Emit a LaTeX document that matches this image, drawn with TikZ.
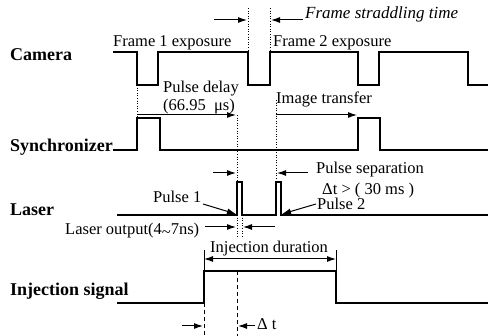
\documentclass[tikz,border=0pt]{standalone}
\usepackage{fontspec}
\setmainfont{Liberation Serif}
\usetikzlibrary{arrows.meta}
\begin{document}
\begin{tikzpicture}[x=1pt,y=-1pt,
  sig/.style={line width=1.4pt},
  dotv/.style={line width=0.8pt, dash pattern=on 1pt off 1.6pt},
  dashv/.style={line width=0.8pt, dash pattern=on 4pt off 3pt},
  thin tick/.style={line width=0.8pt},
  arr/.style={line width=1pt, -{Latex[length=9pt,width=6pt]}},
  darr/.style={line width=1pt, {Latex[length=9pt,width=6pt]}-{Latex[length=9pt,width=6pt]}},
  lbl/.style={font=\fontsize{16.5}{18}\selectfont, inner sep=0pt, anchor=base west},
  ital/.style={font=\fontsize{17}{19}\selectfont\itshape, inner sep=0pt, anchor=base west},
  ttl/.style={font=\fontsize{18}{20}\selectfont\bfseries, inner sep=0pt, anchor=base west}]
\useasboundingbox (0,0) rectangle (488,336);

% titles
\node[ttl] (tcam) at (10,61) {Camera};
\node[ttl] (tsyn) at (10,152) {Synchronizer};
\node[ttl] (tlas) at (10,216) {Laser};
\node[ttl] (tinj) at (10,296) {Injection signal};

% signals
\draw[sig] (113,52) -- (137,52) -- (137,85) -- (158,85) -- (158,52) -- (248,52) -- (248,85)
  -- (270,85) -- (270,52) -- (358,52) -- (358,85) -- (379,85) -- (379,52) -- (468,52) -- (468,85) -- (488,85);
\draw[sig] (113,150) -- (137,150) -- (137,118) -- (160,118) -- (160,150) -- (358,150) -- (358,118)
  -- (380,118) -- (380,150) -- (488,150);
\draw[sig] (117,215) -- (237,215) -- (237,182) -- (242,182) -- (242,215) -- (276,215) -- (276,182)
  -- (281,182) -- (281,215) -- (488,215);
\draw[sig] (117,303) -- (204,303) -- (204,271) -- (336,271) -- (336,303) -- (488,303);

% dotted / dashed guides
\draw[dotv] (137,85) -- (137,118);
\draw[dotv] (248,8) -- (248,52);
\draw[dotv] (270,8) -- (270,52);
\draw[dotv] (237,115) -- (237,182);
\draw[dotv] (237,215) -- (237,238);
\draw[dotv] (242,215) -- (242,238);
\draw[dotv] (276,100) -- (276,182);
\draw[thin tick] (204,250) -- (204,271);
\draw[thin tick] (336,250) -- (336,271);
\draw[dashv] (204,303) -- (204,336);
\draw[dashv] (237,271) -- (237,336);

% arrow end points
\coordinate (fsA) at (214,20); \coordinate (fsB) at (247,20);
\coordinate (fsC) at (303,20); \coordinate (fsD) at (271,20);
\coordinate (pdA) at (137,115); \coordinate (pdB) at (236,115);
\coordinate (itA) at (276,115); \coordinate (itB) at (357,115);
\coordinate (psA) at (213,173); \coordinate (psB) at (236,173);
\coordinate (psC) at (308,173); \coordinate (psD) at (277,173);
\coordinate (p1A) at (203,204); \coordinate (p1B) at (236,214);
\coordinate (p2A) at (316,204); \coordinate (p2B) at (282,214);
\coordinate (loA) at (205,227); \coordinate (loB) at (236,227);
\coordinate (loC) at (275,227); \coordinate (loD) at (243,227);
\coordinate (idA) at (204,259); \coordinate (idB) at (336,259);
\coordinate (dtA) at (182,326); \coordinate (dtB) at (203,326);
\coordinate (dtC) at (255,326); \coordinate (dtD) at (238,326);

\draw[arr] (fsA) -- (fsB);
\draw[arr] (fsC) -- (fsD);
\draw[arr] (pdA) -- (pdB);
\draw[arr] (itA) -- (itB);
\draw[arr] (psA) -- (psB);
\draw[arr] (psC) -- (psD);
\draw[arr] (p1A) -- (p1B);
\draw[arr] (p2A) -- (p2B);
\draw[arr] (loA) -- (loB);
\draw[arr] (loC) -- (loD);
\draw[darr] (idA) -- (idB);
\draw[arr] (dtA) -- (dtB);
\draw[arr] (dtC) -- (dtD);

% labels
\node[ital] (lfs) at (305,19) {Frame straddling time};
\node[lbl] (lf1) at (113,47) {Frame 1 exposure};
\node[lbl] (lf2) at (273,47) {Frame 2 exposure};
\node[lbl] (lpd) at (163,93) {Pulse delay};
\node[lbl] (lpv) at (163,111) {(66.95\ \ μs)};
\node[lbl] (lit) at (276,104) {Image transfer};
\node[lbl] (lps) at (316,174) {Pulse separation};
\node[lbl] (ldt) at (322,195) {Δt > ( 30 ms )};
\node[lbl] (lp2) at (317,210) {Pulse 2};
\node[lbl] (lp1) at (153,203) {Pulse 1};
\node[lbl] (llo) at (65,235) {Laser output(4\raisebox{-0.3ex}{\textasciitilde}7ns)};
\node[lbl] (lid) at (210,253) {Injection duration};
\node[lbl] (ld) at (257,330) {Δ t};
\end{tikzpicture}
\end{document}
